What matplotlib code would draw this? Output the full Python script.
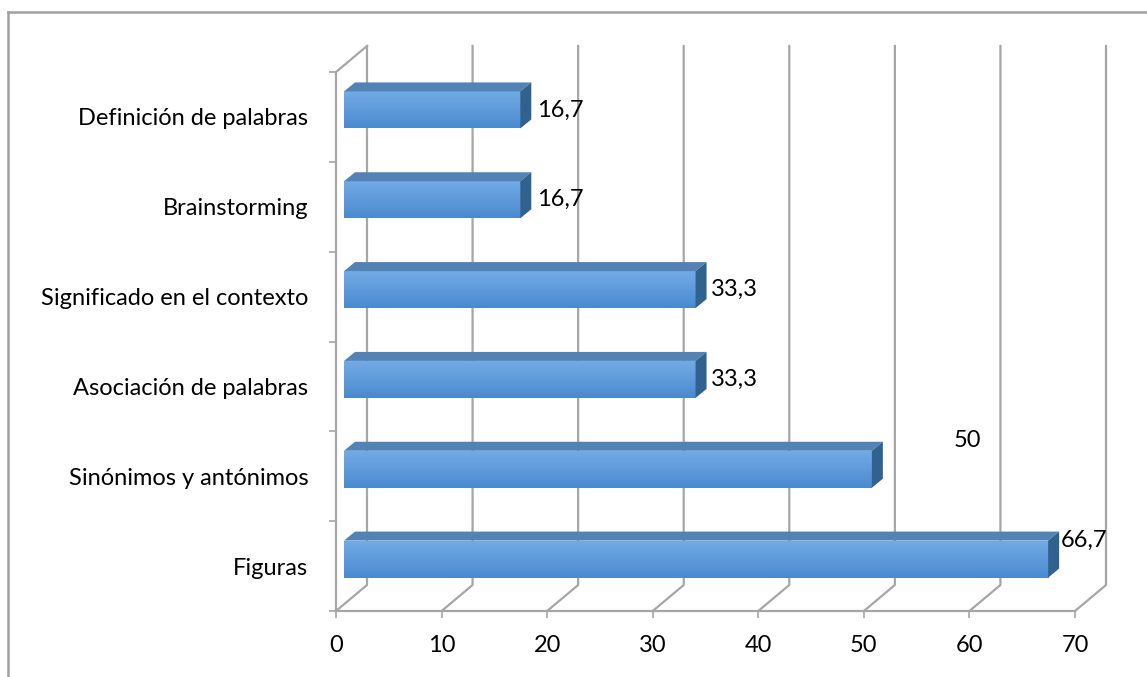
import numpy as np
import matplotlib.pyplot as plt
from matplotlib.patches import Polygon
from matplotlib.colors import LinearSegmentedColormap

plt.rcParams['font.family'] = ['Lato', 'DejaVu Sans']

categorias = ["Figuras", "Sinónimos y antónimos", "Asociación de palabras",
              "Significado en el contexto", "Brainstorming", "Definición de palabras"]
valores = [66.7, 50, 33.3, 33.3, 16.7, 16.7]
etiquetas = ["66,7", "50", "33,3", "33,3", "16,7", "16,7"]
# desplazamiento de las etiquetas (px): Excel las puso así
desp_etiq = [(13, 19), (82, 29), (15, 0), (15, 0), (17, 0), (17, 0)]
ticks_x = [0, 10, 20, 30, 40, 50, 60, 70]

W, H = 1147, 677
fig = plt.figure(figsize=(W / 100, H / 100), dpi=100)
x0px, x1px, y0px, y1px = 336, 1075, 611, 72
ax = fig.add_axes([x0px / W, 1 - y0px / H, (x1px - x0px) / W, (y0px - y1px) / H])
ax.set_xlim(0, 70)
ax.set_ylim(0, 6)

ux = (x1px - x0px) / 70.0
uy = (y0px - y1px) / 6.0
wdx, wdy = 31 / ux, 26 / uy   # profundidad de las paredes
bdx, bdy = 8 / ux, 7 / uy     # barra a media profundidad
tdx, tdy = 11 / ux, 9 / uy    # profundidad de la barra
h = 37 / uy

gris = '#a6a6a6'
lw = 1.6
fs = 17
# paredes y rejilla
ax.plot([0, 0, wdx], [0, 6, 6 + wdy], color=gris, lw=lw, clip_on=False, zorder=1)
ax.plot([0, 70], [0, 0], color=gris, lw=lw, clip_on=False, zorder=1)
for t in ticks_x:
    ax.plot([t, t + wdx, t + wdx], [0, wdy, 6 + wdy], color=gris, lw=lw,
            clip_on=False, zorder=1)

# barras 3D
cmap = LinearSegmentedColormap.from_list('azul', ['#72aae4', '#5f9bdb', '#4b89cf'])
grad = np.linspace(0, 1, 64).reshape(-1, 1)
for i, v in enumerate(valores):
    c = i + 0.5
    ya, yb = c - h / 2 + bdy, c + h / 2 + bdy
    xa, xb = bdx, v + bdx
    ax.imshow(grad, cmap=cmap, extent=(xa, xb, ya, yb), origin='upper',
              aspect='auto', zorder=3, clip_on=False)
    ax.add_patch(Polygon([(xa, yb), (xb, yb), (xb + tdx, yb + tdy), (xa + tdx, yb + tdy)],
                         closed=True, facecolor='#5382b4', edgecolor='none', zorder=3,
                         clip_on=False))
    ax.add_patch(Polygon([(xb, ya), (xb + tdx, ya + tdy), (xb + tdx, yb + tdy), (xb, yb)],
                         closed=True, facecolor='#31618f', edgecolor='none', zorder=3,
                         clip_on=False))
    ax.annotate(etiquetas[i], (xb, c + bdy), xytext=desp_etiq[i], textcoords='offset pixels',
                ha='left', va='center', fontsize=fs, zorder=4, annotation_clip=False)

ax.set_xlim(0, 70)
ax.set_ylim(0, 6)
for s in ax.spines.values():
    s.set_visible(False)

ax.set_xticks(ticks_x)
ax.set_xticklabels([str(t) for t in ticks_x], fontsize=fs)
ax.tick_params(axis='x', length=5, width=1.2, color=gris, pad=12)
ax.set_yticks([i + 0.5 for i in range(len(categorias))])
ax.set_yticklabels(categorias, fontsize=fs)
ax.set_yticks(range(7), minor=True)
ax.tick_params(axis='y', which='major', length=0, pad=20)
ax.tick_params(axis='y', which='minor', length=5, width=1.2, color=gris)

# borde del area del grafico (solo arriba e izquierda visibles)
fig.add_artist(plt.Line2D([8 / W, 8 / W], [0, 1 - 12 / H], color='#a0a0a0', lw=1.8))
fig.add_artist(plt.Line2D([8 / W, 1], [1 - 12 / H, 1 - 12 / H], color='#a0a0a0', lw=1.8))

fig.savefig('out.png', dpi=100)
